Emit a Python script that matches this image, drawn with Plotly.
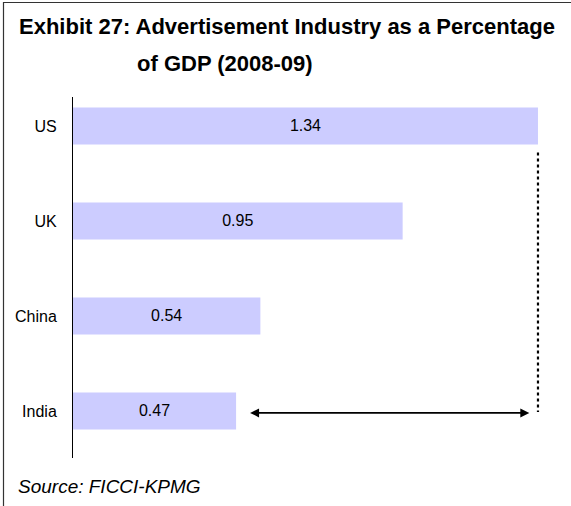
import plotly.graph_objects as go

countries = ["India", "China", "UK", "US"]
values = [0.47, 0.54, 0.95, 1.34]
value_labels = ["0.47", "0.54", "0.95", "1.34"]
title_line1 = "Exhibit 27: Advertisement Industry as a Percentage"
title_line2 = "of GDP (2008-09)"
source_text = "Source: FICCI-KPMG"

W, H = 571, 506
L, R, T, B = 73, 11, 97, 48
pw = W - L - R
ph = H - T - B
XMAX = pw / 347.0

def px_x(p):
    return (p - L) / pw

def px_y(p):
    return (H - B - p) / ph

FONT = "Liberation Sans, Arial, sans-serif"

fig = go.Figure()
fig.add_trace(go.Bar(
    y=countries, x=values, orientation="h",
    marker=dict(color="#CCCCFF", line=dict(width=0)),
    width=0.39,
    text=value_labels, textposition="inside", insidetextanchor="middle",
    textfont=dict(family=FONT, size=16, color="black"),
    constraintext="none", hoverinfo="skip",
))

us_val = values[countries.index("US")]
india_val = values[countries.index("India")]

fig.add_shape(type="line", xref="x", yref="y",
              x0=us_val, x1=us_val, y0=2.72, y1=-0.01,
              line=dict(color="black", width=2.2, dash="dot"))

fig.add_annotation(x=us_val - 0.025, y=-0.02, ax=india_val + 0.036, ay=-0.02,
                   xref="x", yref="y", axref="x", ayref="y",
                   text="", showarrow=True, arrowhead=2, startarrowhead=2,
                   arrowside="end+start", arrowsize=1, startarrowsize=1,
                   arrowwidth=1.8, arrowcolor="black")

fig.add_annotation(x=px_x(17), y=px_y(26), xref="paper", yref="paper",
                   xanchor="left", yanchor="middle", showarrow=False,
                   text="<b>" + title_line1 + "</b>",
                   font=dict(family=FONT, size=22, color="black"))
fig.add_annotation(x=px_x(135), y=px_y(64), xref="paper", yref="paper",
                   xanchor="left", yanchor="middle", showarrow=False,
                   text="<b>" + title_line2 + "</b>",
                   font=dict(family=FONT, size=22, color="black"))
fig.add_annotation(x=px_x(16), y=px_y(487), xref="paper", yref="paper",
                   xanchor="left", yanchor="middle", showarrow=False,
                   text="<i>" + source_text + "</i>",
                   font=dict(family=FONT, size=19, color="black"))

# outer frame: left and top edges visible, right/bottom just outside the page
fig.add_shape(type="rect", xref="paper", yref="paper",
              x0=px_x(3.5), x1=px_x(W + 1.5), y0=px_y(2.5), y1=px_y(H + 1.5),
              line=dict(color="#333333", width=1.2), fillcolor="rgba(0,0,0,0)",
              layer="above")

fig.update_layout(
    width=W, height=H,
    margin=dict(l=L, r=R, t=T, b=B, pad=0),
    paper_bgcolor="white", plot_bgcolor="white",
    showlegend=False,
    bargap=0.61,
    xaxis=dict(range=[0, XMAX], visible=False, fixedrange=True),
    yaxis=dict(type="category", categoryorder="array", categoryarray=countries,
               range=[-0.495, 3.305], showline=True, linecolor="black", linewidth=1,
               showgrid=False, zeroline=False, ticks="outside", ticklen=12,
               tickcolor="rgba(0,0,0,0)", fixedrange=True,
               tickfont=dict(family=FONT, size=16, color="black")),
    font=dict(family=FONT),
)

fig.write_html("out.html", config={"displayModeBar": False},
               post_script="document.body.style.margin='0';document.body.style.padding='0';")
